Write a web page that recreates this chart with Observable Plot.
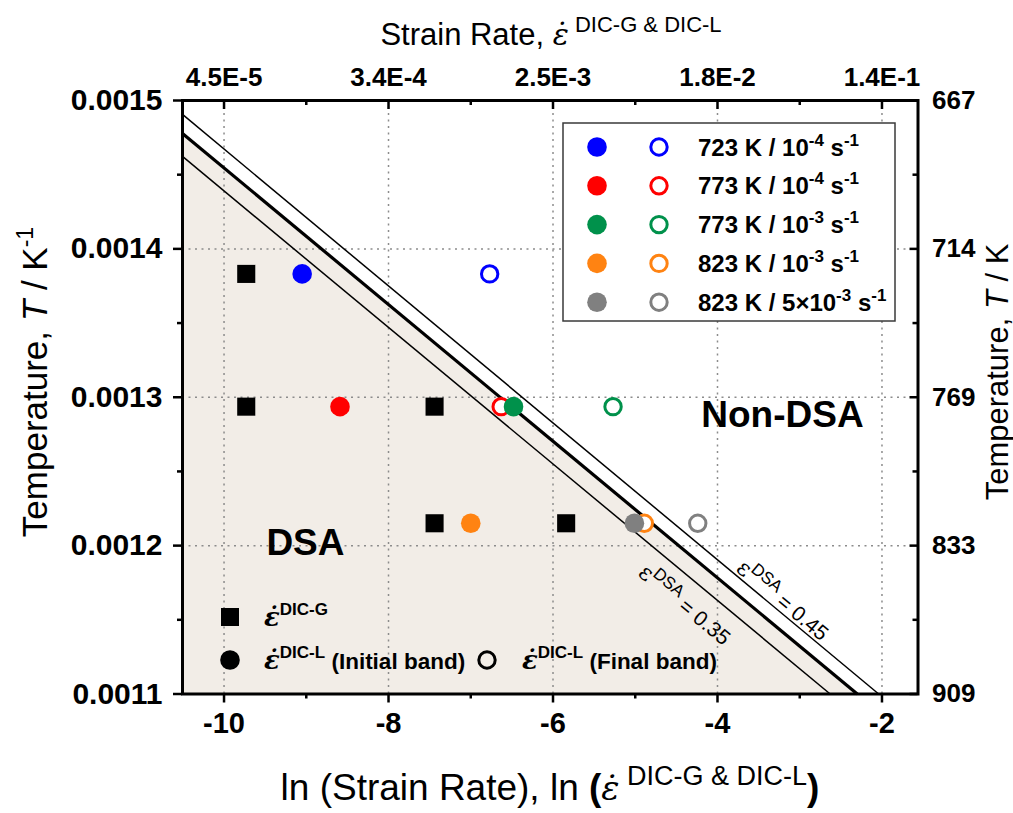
<!DOCTYPE html>
<html>
<head>
<meta charset="utf-8">
<script src="https://cdn.jsdelivr.net/npm/d3@7"></script>
<script src="https://cdn.jsdelivr.net/npm/@observablehq/plot@0.6"></script>
<style>
  body { margin: 0; background: #fff; }
  #chart { position: relative; width: 1013px; height: 813px; }
</style>
</head>
<body>
<div id="chart"></div>
<script>
// ---- Test conditions (temperature / nominal strain rate) ----
const seriesNames = ["723 K / 10^{-4} s^{-1}", "773 K / 10^{-4} s^{-1}", "773 K / 10^{-3} s^{-1}", "823 K / 10^{-3} s^{-1}", "823 K / 5×10^{-3} s^{-1}"];
const seriesTemps = [723, 773, 773, 823, 823];
const seriesColors = ["#0000ff", "#ff0000", "#00914b", "#ff8312", "#808080"];

// ln of local (DIC-L) strain rate: initial band and final band
const lnRateInitial = [-9.05, -8.59, -6.48, -7.00, -5.01];
const lnRateFinal = [-6.77, -6.63, -5.27, -4.89, -4.24];

// ln of global (DIC-G) strain rate
const globalTemps = [723, 773, 773, 823, 823];
const lnRateGlobal = [-9.73, -9.73, -7.44, -7.44, -5.84];

// DSA boundaries: ln(rate) where 1/T = 0.0011 and 1/T at the left edge of the frame
const boundaryNames = ["ε^{DSA} = 0.35", "", "ε^{DSA} = 0.45"];
const boundaryLnRateAtBottom = [-2.63, -2.30, -2.04];
const boundaryInvTAtLeft = [0.0014623, 0.0014778, 0.0014906];

// Axis ticks and their labels
const xTicks = [-10, -8, -6, -4, -2];
const xMinorTicks = [-9, -7, -5, -3];
const topTickLabels = ["4.5E-5", "3.4E-4", "2.5E-3", "1.8E-2", "1.4E-1"];
const yTicks = [0.0011, 0.0012, 0.0013, 0.0014, 0.0015];
const yMinorTicks = [0.00115, 0.00125, 0.00135, 0.00145];
const rightTickLabels = ["909", "833", "769", "714", "667"];

// ---- Layout ----
const W = 1013, H = 813;
const mL = 182, mR = 95.5, mT = 100, mB = 119.5;
const plotW = W - mL - mR, plotH = H - mT - mB;
const xDomain = [-10.505, -1.562];
const yDomain = [0.0011, 0.0015];
const SANS = "'Liberation Sans', Arial, Helvetica, sans-serif";
const SERIF = "'DejaVu Serif', 'Liberation Serif', serif";
const BEIGE = "#f2ede7";

// ---- Derived tables ----
const initial = seriesTemps.map((T, i) => ({x: lnRateInitial[i], y: 1 / T, color: seriesColors[i]}));
const final = seriesTemps.map((T, i) => ({x: lnRateFinal[i], y: 1 / T, color: seriesColors[i]}));
const global = globalTemps.map((T, i) => ({x: lnRateGlobal[i], y: 1 / T}));
const boundaries = boundaryNames.map((name, i) => ({
  name,
  x1: xDomain[0], y1: boundaryInvTAtLeft[i],
  x2: boundaryLnRateAtBottom[i], y2: yDomain[0],
  width: i === 1 ? 3.2 : 1.5
}));
const middle = boundaries[1];
const dsaArea = [{x: middle.x1, y: middle.y1}, {x: middle.x2, y: middle.y2}];

// label placement along the thin boundaries (screen angle of the lines)
const kx = plotW / (xDomain[1] - xDomain[0]);
const ky = plotH / (yDomain[1] - yDomain[0]);
const slope = (middle.y1 - middle.y2) / (middle.x1 - middle.x2);
const angle = Math.atan(-slope * ky / kx) * 180 / Math.PI;
const rad = angle * Math.PI / 180;
const onLine = (b, x) => b.y2 + (b.y1 - b.y2) * (b.x2 - x) / (b.x2 - b.x1);
const lineLabels = [
  {b: boundaries[0], x: -4.21, off: 25},
  {b: boundaries[2], x: -3.29, off: -10}
].map(({b, x, off}) => ({text: b.name, x, y: onLine(b, x), dx: -off * Math.sin(rad), dy: off * Math.cos(rad)}));

const chart = Plot.plot({
  width: W, height: H,
  marginLeft: mL, marginRight: mR, marginTop: mT, marginBottom: mB,
  style: {fontFamily: SANS, background: "white", overflow: "visible"},
  x: {domain: xDomain},
  y: {domain: yDomain},
  marks: [
    // DSA region
    Plot.areaY(dsaArea, {x: "x", y1: yDomain[0], y2: "y", fill: BEIGE}),
    // dotted grid
    Plot.gridX(xTicks, {stroke: "#8c8c8c", strokeOpacity: 1, strokeWidth: 1.5, strokeDasharray: "2,4.5"}),
    Plot.gridY([0.0012, 0.0013, 0.0014], {stroke: "#8c8c8c", strokeOpacity: 1, strokeWidth: 1.5, strokeDasharray: "2,4.5"}),
    // boundaries
    Plot.link(boundaries, {x1: "x1", y1: "y1", x2: "x2", y2: "y2", stroke: "black", strokeWidth: "width"}),
    ...lineLabels.map(d => Plot.text([d], {
      x: "x", y: "y", text: "text", rotate: angle, dx: d.dx, dy: d.dy,
      fontSize: 21, fill: "black", textAnchor: "middle", fontFamily: SANS
    })),
    // region names
    Plot.text(["DSA"], {x: -9.01, y: 0.0012015, fontSize: 37, fontWeight: "bold", fill: "black"}),
    Plot.text(["Non-DSA"], {x: -3.21, y: 0.0012877, fontSize: 37, fontWeight: "bold", fill: "black"}),
    // data
    Plot.dot(global, {x: "x", y: "y", symbol: "square", r: 10.2, fill: "black"}),
    Plot.dot(final, {x: "x", y: "y", r: 8.2, stroke: "color", strokeWidth: 3, fill: "white"}),
    Plot.dot(initial, {x: "x", y: "y", r: 9.8, fill: "color"}),
    // axes: bottom
    Plot.axisX(xTicks, {anchor: "bottom", tickSize: 9, tickPadding: 9, strokeWidth: 2.5, label: null,
      tickFormat: d => String(d), fontSize: 29, fontWeight: "bold", fill: "black"}),
    Plot.axisX(xMinorTicks, {anchor: "bottom", tickSize: 5, strokeWidth: 2.5, label: null, tickFormat: () => ""}),
    // axes: top (labels outside, ticks inside)
    Plot.axisX(xTicks, {anchor: "top", tickSize: 0, tickPadding: 15, label: null,
      tickFormat: d => topTickLabels[xTicks.indexOf(d)], fontSize: 26, fontWeight: "bold", fill: "black"}),
    Plot.tickX(xTicks, {insetBottom: plotH - 9, strokeWidth: 2.5, stroke: "black"}),
    Plot.tickX(xMinorTicks, {insetBottom: plotH - 5, strokeWidth: 2.5, stroke: "black"}),
    // axes: left
    Plot.axisY(yTicks, {anchor: "left", tickSize: 9, tickPadding: 11, strokeWidth: 2.5, label: null,
      tickFormat: d => d.toFixed(4), fontSize: 30, fontWeight: "bold", fill: "black"}),
    Plot.axisY(yMinorTicks, {anchor: "left", tickSize: 5, strokeWidth: 2.5, label: null, tickFormat: () => ""}),
    // axes: right (1/T shown as T)
    Plot.axisY(yTicks, {anchor: "right", tickSize: 0, tickPadding: 14, label: null,
      tickFormat: d => rightTickLabels[yTicks.indexOf(d)], fontSize: 26, fontWeight: "bold", fill: "black"}),
    Plot.tickY(yTicks, {insetLeft: plotW - 8, strokeWidth: 2.5, stroke: "black"}),
    Plot.tickY(yMinorTicks, {insetLeft: plotW - 5, strokeWidth: 2.5, stroke: "black"}),
    Plot.frame({stroke: "black", strokeWidth: 3})
  ]
});

document.getElementById("chart").appendChild(chart);
const svg = d3.select(chart);

// ---- rich text helpers: ^{...} superscripts ----
function parseRich(str) {
  const parts = [];
  const re = /\^\{([^}]*)\}/g;
  let last = 0, m;
  while ((m = re.exec(str))) {
    if (m.index > last) parts.push({t: str.slice(last, m.index)});
    parts.push({t: m[1], sup: true});
    last = re.lastIndex;
  }
  if (last < str.length) parts.push({t: str.slice(last)});
  return parts;
}
function writeRich(text, parts, supSize, raise) {
  let shift = 0;
  for (const p of parts) {
    const ts = text.append("tspan").text(p.t);
    const target = p.sup ? -(p.raise ?? raise) : 0;
    if (target !== shift) { ts.attr("dy", target - shift); shift = target; }
    if (p.sup) ts.attr("font-size", p.size ?? supSize);
    else if (p.size) ts.attr("font-size", p.size);
    if (p.italic) ts.attr("font-style", "italic");
    if (p.weight) ts.attr("font-weight", p.weight);
    if (p.family) ts.attr("font-family", p.family);
  }
  return text;
}

// boundary labels rendered by Plot: turn ^{..} into superscripts
svg.selectAll("text").each(function () {
  const s = this.textContent;
  if (s.startsWith("ε^{DSA}")) {
    const t = d3.select(this);
    t.text("");
    const parts = parseRich(s);
    parts[0].family = SERIF; parts[0].size = 23;
    writeRich(t, parts, 17, 9);
  }
});

const dot = "ε\u0307";
const ann = svg.append("g").attr("fill", "black").attr("font-family", SANS).attr("text-anchor", "start");

// top title
writeRich(ann.append("text").attr("x", 551).attr("y", 45).attr("text-anchor", "middle").attr("font-size", 31),
  [{t: "Strain Rate, "}, {t: dot, family: SERIF, italic: true, size: 30}, {t: " DIC-G & DIC-L", sup: true}], 22, 13);

// bottom title
writeRich(ann.append("text").attr("x", 550).attr("y", 800).attr("text-anchor", "middle").attr("font-size", 37),
  [{t: "ln (Strain Rate), ln "}, {t: "(", weight: "bold"}, {t: dot, family: SERIF, italic: true, size: 34},
   {t: " DIC-G & DIC-L", sup: true}, {t: ")", weight: "bold"}], 27, 15);

// left title
writeRich(ann.append("text").attr("transform", "translate(47,382) rotate(-90)").attr("text-anchor", "middle").attr("font-size", 35),
  [{t: "Temperature, "}, {t: "T", italic: true}, {t: " / K"}, {t: "-1", sup: true}], 23, 14);

// right title
writeRich(ann.append("text").attr("transform", "translate(1008,372) rotate(-90)").attr("text-anchor", "middle").attr("font-size", 31),
  [{t: "Temperature, "}, {t: "T", italic: true}, {t: " / K"}], 20, 10);

// ---- legend: test conditions ----
const leg = svg.append("g").attr("text-anchor", "start");
leg.append("rect").attr("x", 563).attr("y", 123).attr("width", 332).attr("height", 198)
  .attr("fill", "white").attr("stroke", "#3a3a3a").attr("stroke-width", 1.5);
seriesNames.forEach((name, i) => {
  const cy = 147 + i * 38.8;
  leg.append("circle").attr("cx", 597).attr("cy", cy).attr("r", 9.8).attr("fill", seriesColors[i]);
  leg.append("circle").attr("cx", 659).attr("cy", cy).attr("r", 8.2).attr("fill", "white")
    .attr("stroke", seriesColors[i]).attr("stroke-width", 3);
  const t = leg.append("text").attr("x", 698).attr("y", cy + 8.5).attr("font-size", 24)
    .attr("font-weight", "bold").attr("font-family", SANS).attr("fill", "black");
  writeRich(t, parseRich(name), 17, 10);
});

// ---- legend: measurement type ----
const leg2 = svg.append("g").attr("font-family", SANS).attr("font-weight", "bold")
  .attr("text-anchor", "start").attr("fill", "black");
leg2.append("rect").attr("x", 221).attr("y", 608).attr("width", 18).attr("height", 18).attr("fill", "black");
writeRich(leg2.append("text").attr("x", 264).attr("y", 626).attr("font-size", 22.5),
  [{t: dot, family: SERIF, italic: true, size: 26}, {t: "DIC-G", sup: true}], 17, 11);
leg2.append("circle").attr("cx", 230).attr("cy", 660).attr("r", 9.8).attr("fill", "black");
writeRich(leg2.append("text").attr("x", 264).attr("y", 669).attr("font-size", 22.5),
  [{t: dot, family: SERIF, italic: true, size: 26}, {t: "DIC-L", sup: true}, {t: " (Initial band)"}], 17, 11);
leg2.append("circle").attr("cx", 487).attr("cy", 660).attr("r", 8.2).attr("fill", "none")
  .attr("stroke", "black").attr("stroke-width", 3);
writeRich(leg2.append("text").attr("x", 522).attr("y", 669).attr("font-size", 22.5),
  [{t: dot, family: SERIF, italic: true, size: 26}, {t: "DIC-L", sup: true}, {t: " (Final band)"}], 17, 11);
</script>
</body>
</html>
